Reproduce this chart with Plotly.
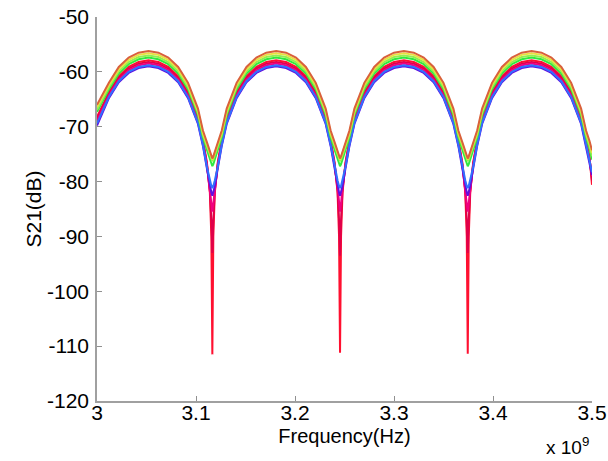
import plotly.graph_objects as go

# Frequency axis values (in units of 1e9 Hz)
freq_ghz = [
    3.000, 3.012, 3.022, 3.032, 3.042, 3.052, 3.062, 3.072, 3.082, 3.092, 3.102, 3.107, 3.111, 3.114, 3.1155, 3.1165,
    3.1175, 3.119, 3.122, 3.126, 3.131, 3.141, 3.151, 3.161, 3.171, 3.181, 3.191, 3.201, 3.211, 3.221, 3.231, 3.236, 3.240, 3.243, 3.2445, 3.2455,
    3.2465, 3.248, 3.251, 3.255, 3.260, 3.270, 3.280, 3.290, 3.300, 3.310, 3.320, 3.330, 3.340, 3.350, 3.360, 3.365, 3.369, 3.372, 3.3735, 3.3745,
    3.3755, 3.377, 3.380, 3.384, 3.389, 3.399, 3.409, 3.419, 3.429, 3.439, 3.449, 3.459, 3.469, 3.479, 3.489, 3.494, 3.4975, 3.500,
]

s21_orange = [
    -66.0, -62.0, -59.1, -57.4, -56.5, -56.2, -56.5, -57.4, -59.1, -62.0, -66.7, -70.7, -72.8, -74.6, -75.4, -75.8,
    -75.4, -74.6, -72.8, -70.7, -66.7, -62.0, -59.1, -57.4, -56.5, -56.2, -56.5, -57.4, -59.1, -62.0, -66.7, -70.7, -72.8, -74.6, -75.4, -75.8,
    -75.4, -74.6, -72.8, -70.7, -66.7, -62.0, -59.1, -57.4, -56.5, -56.2, -56.5, -57.4, -59.1, -62.0, -66.7, -70.7, -72.8, -74.6, -75.4, -75.8,
    -75.4, -74.6, -72.8, -70.7, -66.7, -62.0, -59.1, -57.4, -56.5, -56.2, -56.5, -57.4, -59.1, -62.0, -66.7, -70.7, -72.6, -74.3,
]
s21_yellow = [
    -66.4, -62.4, -59.5, -57.8, -56.9, -56.6, -56.9, -57.8, -59.5, -62.4, -67.1, -71.1, -73.2, -74.9, -75.6, -76.0,
    -75.6, -74.9, -73.2, -71.1, -67.1, -62.4, -59.5, -57.8, -56.9, -56.6, -56.9, -57.8, -59.5, -62.4, -67.1, -71.1, -73.2, -74.9, -75.6, -76.0,
    -75.6, -74.9, -73.2, -71.1, -67.1, -62.4, -59.5, -57.8, -56.9, -56.6, -56.9, -57.8, -59.5, -62.4, -67.1, -71.1, -73.2, -74.9, -75.6, -76.0,
    -75.6, -74.9, -73.2, -71.1, -67.1, -62.4, -59.5, -57.8, -56.9, -56.6, -56.9, -57.8, -59.5, -62.4, -67.1, -71.1, -73.0, -74.8,
]
s21_lightgreen = [
    -66.9, -62.8, -59.9, -58.2, -57.3, -57.0, -57.3, -58.2, -59.9, -62.8, -67.5, -71.5, -73.6, -75.3, -76.0, -76.3,
    -76.0, -75.3, -73.6, -71.5, -67.5, -62.8, -59.9, -58.2, -57.3, -57.0, -57.3, -58.2, -59.9, -62.8, -67.5, -71.5, -73.6, -75.3, -76.0, -76.3,
    -76.0, -75.3, -73.6, -71.5, -67.5, -62.8, -59.9, -58.2, -57.3, -57.0, -57.3, -58.2, -59.9, -62.8, -67.5, -71.5, -73.6, -75.3, -76.0, -76.3,
    -76.0, -75.3, -73.6, -71.5, -67.5, -62.8, -59.9, -58.2, -57.3, -57.0, -57.3, -58.2, -59.9, -62.8, -67.5, -71.5, -73.5, -75.4,
]
s21_green = [
    -67.3, -63.2, -60.3, -58.6, -57.7, -57.4, -57.7, -58.6, -60.3, -63.2, -67.9, -71.9, -74.2, -76.0, -76.8, -77.2,
    -76.8, -76.0, -74.2, -71.9, -67.9, -63.2, -60.3, -58.6, -57.7, -57.4, -57.7, -58.6, -60.3, -63.2, -67.9, -71.9, -74.2, -76.0, -76.8, -77.2,
    -76.8, -76.0, -74.2, -71.9, -67.9, -63.2, -60.3, -58.6, -57.7, -57.4, -57.7, -58.6, -60.3, -63.2, -67.9, -71.9, -74.2, -76.0, -76.8, -77.2,
    -76.8, -76.0, -74.2, -71.9, -67.9, -63.2, -60.3, -58.6, -57.7, -57.4, -57.7, -58.6, -60.3, -63.2, -67.9, -71.9, -74.0, -76.0,
]
s21_red = [
    -68.2, -63.7, -60.8, -59.1, -58.2, -57.9, -58.2, -59.1, -60.8, -63.7, -68.4, -72.4, -76.5, -82.0, -90.0, -111.5,
    -90.0, -82.0, -76.5, -72.4, -68.4, -63.7, -60.8, -59.1, -58.2, -57.9, -58.2, -59.1, -60.8, -63.7, -68.4, -72.4, -76.5, -82.0, -90.0, -111.2,
    -90.0, -82.0, -76.5, -72.4, -68.4, -63.7, -60.8, -59.1, -58.2, -57.9, -58.2, -59.1, -60.8, -63.7, -68.4, -72.4, -76.5, -82.0, -90.0, -111.4,
    -90.0, -82.0, -76.5, -72.4, -68.4, -63.7, -60.8, -59.1, -58.2, -57.9, -58.2, -59.1, -60.8, -63.7, -68.4, -72.4, -75.5, -80.6,
]
s21_crimson = [
    -68.6, -64.0, -61.1, -59.4, -58.5, -58.2, -58.5, -59.4, -61.1, -64.0, -68.7, -72.7, -76.8, -81.5, -87.0, -93.0,
    -87.0, -81.5, -76.8, -72.7, -68.7, -64.0, -61.1, -59.4, -58.5, -58.2, -58.5, -59.4, -61.1, -64.0, -68.7, -72.7, -76.8, -81.5, -87.0, -93.5,
    -87.0, -81.5, -76.8, -72.7, -68.7, -64.0, -61.1, -59.4, -58.5, -58.2, -58.5, -59.4, -61.1, -64.0, -68.7, -72.7, -76.8, -81.5, -87.0, -93.0,
    -87.0, -81.5, -76.8, -72.7, -68.7, -64.0, -61.1, -59.4, -58.5, -58.2, -58.5, -59.4, -61.1, -64.0, -68.7, -72.7, -75.8, -79.8,
]
s21_magenta = [
    -69.0, -64.3, -61.4, -59.7, -58.8, -58.5, -58.8, -59.7, -61.4, -64.3, -69.0, -73.0, -77.0, -81.0, -84.0, -85.5,
    -84.0, -81.0, -77.0, -73.0, -69.0, -64.3, -61.4, -59.7, -58.8, -58.5, -58.8, -59.7, -61.4, -64.3, -69.0, -73.0, -77.0, -81.0, -84.0, -85.5,
    -84.0, -81.0, -77.0, -73.0, -69.0, -64.3, -61.4, -59.7, -58.8, -58.5, -58.8, -59.7, -61.4, -64.3, -69.0, -73.0, -77.0, -81.0, -84.0, -85.5,
    -84.0, -81.0, -77.0, -73.0, -69.0, -64.3, -61.4, -59.7, -58.8, -58.5, -58.8, -59.7, -61.4, -64.3, -69.0, -73.0, -76.0, -79.0,
]
s21_blue = [
    -69.4, -64.6, -61.7, -60.0, -59.1, -58.8, -59.1, -60.0, -61.7, -64.6, -69.3, -73.3, -77.3, -79.8, -80.8, -81.2,
    -80.8, -79.8, -77.3, -73.3, -69.3, -64.6, -61.7, -60.0, -59.1, -58.8, -59.1, -60.0, -61.7, -64.6, -69.3, -73.3, -77.3, -79.8, -80.8, -81.2,
    -80.8, -79.8, -77.3, -73.3, -69.3, -64.6, -61.7, -60.0, -59.1, -58.8, -59.1, -60.0, -61.7, -64.6, -69.3, -73.3, -77.3, -79.8, -80.8, -81.2,
    -80.8, -79.8, -77.3, -73.3, -69.3, -64.6, -61.7, -60.0, -59.1, -58.8, -59.1, -60.0, -61.7, -64.6, -69.3, -73.3, -76.3, -78.3,
]
s21_purple = [
    -69.8, -64.8, -61.9, -60.2, -59.3, -59.0, -59.3, -60.2, -61.9, -64.8, -69.5, -73.5, -77.6, -80.8, -82.0, -82.6,
    -82.0, -80.8, -77.6, -73.5, -69.5, -64.8, -61.9, -60.2, -59.3, -59.0, -59.3, -60.2, -61.9, -64.8, -69.5, -73.5, -77.6, -80.8, -82.0, -82.6,
    -82.0, -80.8, -77.6, -73.5, -69.5, -64.8, -61.9, -60.2, -59.3, -59.0, -59.3, -60.2, -61.9, -64.8, -69.5, -73.5, -77.6, -80.8, -82.0, -82.6,
    -82.0, -80.8, -77.6, -73.5, -69.5, -64.8, -61.9, -60.2, -59.3, -59.0, -59.3, -60.2, -61.9, -64.8, -69.5, -73.5, -76.5, -78.8,
]

x_tick_vals = [3.0, 3.1, 3.2, 3.3, 3.4, 3.5]
x_tick_text = ["3", "3.1", "3.2", "3.3", "3.4", "3.5"]
y_tick_vals = [-120, -110, -100, -90, -80, -70, -60, -50]
y_tick_text = ["-120", "-110", "-100", "-90", "-80", "-70", "-60", "-50"]

# draw order: bottom layer first
series = [
    (s21_red, "#ff1030"),
    (s21_crimson, "#e0004a"),
    (s21_magenta, "#f00080"),
    (s21_purple, "#6010e0"),
    (s21_blue, "#3070ff"),
    (s21_green, "#30e840"),
    (s21_lightgreen, "#90f050"),
    (s21_yellow, "#e8e040"),
    (s21_orange, "#d9603b"),
]

fig = go.Figure()
for vals, col in series:
    fig.add_trace(go.Scatter(x=freq_ghz, y=vals, mode="lines",
                             line=dict(color=col, width=2), showlegend=False,
                             hoverinfo="skip"))

font_family = "Liberation Sans, Arial, sans-serif"
fig.update_layout(
    width=608, height=461,
    margin=dict(l=97, r=16, t=17, b=60),
    paper_bgcolor="white", plot_bgcolor="white",
    font=dict(family=font_family, size=21, color="black"),
    xaxis=dict(range=[3.0, 3.5], tickvals=x_tick_vals, ticktext=x_tick_text,
               ticks="inside", ticklen=5, tickcolor="#909090", tickwidth=1,
               ticklabelstandoff=-8,
               showline=True, linecolor="#a0a0a0", linewidth=1.5, mirror=False,
               showgrid=False, zeroline=False, automargin=False,
               title=dict(text="Frequency(Hz)", standoff=6, font=dict(size=20))),
    yaxis=dict(range=[-120, -50], tickvals=y_tick_vals, ticktext=y_tick_text,
               ticks="inside", ticklen=5, tickcolor="#909090", tickwidth=1,
               ticklabelstandoff=2,
               showline=True, linecolor="#a0a0a0", linewidth=1.5, mirror=False,
               showgrid=False, zeroline=False, automargin=False,
               title=dict(text="S21(dB)", standoff=0, font=dict(size=21))),
    annotations=[dict(text="x 10<sup>9</sup>", xref="paper", yref="paper",
                      x=0.998, y=-0.08, xanchor="right", yanchor="top",
                      showarrow=False, font=dict(size=19, color="black"))],
)

fig.write_html("out.html", config={"displayModeBar": False},
               post_script="document.body.style.margin='0';document.body.style.overflow='hidden';")
